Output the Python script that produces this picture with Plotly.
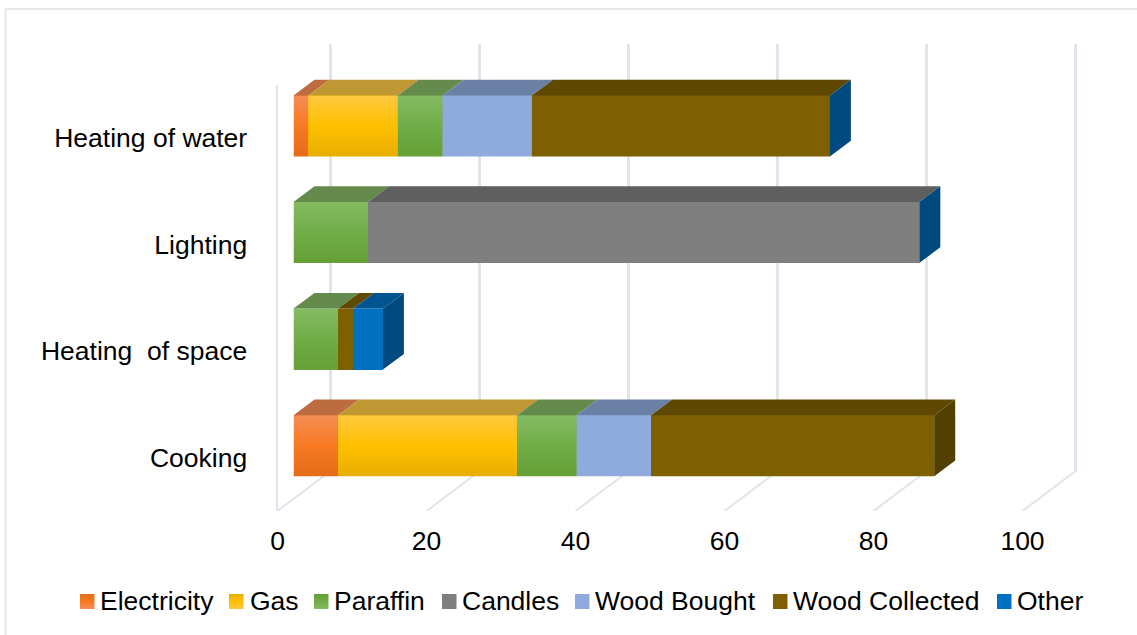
import plotly.graph_objects as go

CATEGORIES = ["Cooking", "Heating  of space", "Lighting", "Heating of water"]
SERIES = ["Electricity", "Gas", "Paraffin", "Candles", "Wood Bought", "Wood Collected", "Other"]

ELECTRICITY = [6, 0, 0, 2]
GAS = [24, 0, 0, 12]
PARAFFIN = [8, 6, 10, 6]
CANDLES = [0, 0, 74, 0]
WOOD_BOUGHT = [10, 0, 0, 12]
WOOD_COLLECTED = [38, 2, 0, 40]
OTHER = [None, 4, 0, 0]
VALUES = [ELECTRICITY, GAS, PARAFFIN, CANDLES, WOOD_BOUGHT, WOOD_COLLECTED, OTHER]
X_TICKS = [0, 20, 40, 60, 80, 100]

# (light, mid, dark) stops of each front face, then top and side shades
FRONT = [
    ("#f58d55", "#f77a22", "#e56c19"),
    ("#ffc840", "#ffc000", "#e8ae00"),
    ("#85bb63", "#70ad47", "#64a035"),
    ("#7f7f7f", "#7f7f7f", "#7f7f7f"),
    ("#8faadc", "#8faadc", "#8faadc"),
    ("#7f6000", "#7f6000", "#7f6000"),
    ("#0070c0", "#0070c0", "#0070c0"),
]
TOP = ["#bd6c40", "#bf9733", "#648a4c", "#5f5f5f", "#6b80a5", "#5f4800", "#005490"]
SIDE = ["#a85412", "#a88000", "#4b7a2f", "#555555", "#5f76a0", "#533f00", "#004a80"]
GRID = "#e1e4ea"
TEXT = "#000000"
FONT = "Liberation Sans, Arial, sans-serif"
FONT_SIZE = 26.5

W, H = 1137, 635
PX_PER_UNIT = 7.45
ROW_PX = 106.6
WALL_PAD = 1  # extra axis units so the end gridlines are kept
FLOOR_PAD = 10  # room for the floor line leaving the last tick


def xdom(left, pad=0):
    return [(left - pad * PX_PER_UNIT) / W, (left + (100 + pad) * PX_PER_UNIT) / W]


def ydom(bottom):
    return [1 - bottom / H, 1 - (bottom - 4 * ROW_PX) / H]


fig = go.Figure()
positions = list(range(len(CATEGORIES)))
bar_width = 61 / ROW_PX
half = bar_width / 2
depth_x = 21 / PX_PER_UNIT
depth_y = 15.7 / ROW_PX
floor_dx = 52.5 / PX_PER_UNIT
floor_dy = 39.5 / ROW_PX

# Rear wall: an empty trace keeps the subplot and its gridlines alive
fig.add_trace(go.Scatter(x=X_TICKS, y=[0] * len(X_TICKS), mode="none", xaxis="x", yaxis="y",
                         showlegend=False, hoverinfo="skip"))

# Floor lines running from each tick back to the rear wall
for t in X_TICKS:
    fig.add_trace(go.Scatter(
        x=[t, t + floor_dx], y=[-0.5, -0.5 + floor_dy], mode="lines", xaxis="x2", yaxis="y2",
        line=dict(color=GRID, width=2), cliponaxis=False, showlegend=False, hoverinfo="skip",
    ))

# Front plane: an empty trace keeps the tick labels and side-wall edge
fig.add_trace(go.Scatter(x=X_TICKS, y=[0] * len(X_TICKS), mode="none", xaxis="x3", yaxis="y3",
                         showlegend=False, hoverinfo="skip"))

# Stacked bars
for name, vals, colours in zip(SERIES, VALUES, FRONT):
    fig.add_trace(go.Bar(
        name=name, y=positions, x=[v or 0 for v in vals], orientation="h", xaxis="x4", yaxis="y4",
        marker=dict(color=colours[1], line=dict(width=0)), width=bar_width, showlegend=False,
    ))


def poly(xs, ys, **kw):
    fig.add_trace(go.Scatter(
        x=xs, y=ys, mode="lines", fill="toself", line=dict(width=0), xaxis="x4", yaxis="y4",
        cliponaxis=False, showlegend=False, hoverinfo="skip", **kw,
    ))


# Gradient overlays, top faces and end caps computed from the stacked values
for i, pos in enumerate(positions):
    left = 0
    last = None
    for s, vals in enumerate(VALUES):
        v = vals[i]
        if v is None:
            continue
        last = s
        if v == 0:
            continue
        right = left + v
        lo, hi = pos - half, pos + half
        poly([left, right, right, left, left], [lo, lo, hi, hi, lo],
             fillgradient=dict(type="vertical", colorscale=[[0, FRONT[s][2]], [0.5, FRONT[s][1]], [1, FRONT[s][0]]]))
        poly([left, right, right + depth_x, left + depth_x, left],
             [hi, hi, hi + depth_y, hi + depth_y, hi], fillcolor=TOP[s])
        left = right
    lo, hi = pos - half, pos + half
    poly([left, left + depth_x, left + depth_x, left, left],
         [lo, lo + depth_y, hi + depth_y, hi, lo], fillcolor=SIDE[last])

# Hand-spaced legend row: gradient swatches and their labels
LEGEND_LEFT = [80, 229, 314, 442, 575, 773, 997]
LEGEND_TEXT_LEFT = [100, 250, 334, 462, 595, 793, 1017]
for s, name in enumerate(SERIES):
    x0 = LEGEND_LEFT[s]
    fig.add_trace(go.Scatter(
        x=[x0, x0 + 14.5, x0 + 14.5, x0, x0], y=[609, 609, 594, 594, 609],
        mode="lines", fill="toself", line=dict(width=0), xaxis="x5", yaxis="y5",
        showlegend=False, hoverinfo="skip",
        fillgradient=dict(type="vertical", colorscale=[[0, FRONT[s][0]], [0.5, FRONT[s][1]], [1, FRONT[s][2]]]),
    ))
    fig.add_annotation(text=name, x=LEGEND_TEXT_LEFT[s], y=601, xref="x5", yref="y5", xanchor="left",
                       yanchor="middle", showarrow=False, xshift=-2, font=dict(family=FONT, size=FONT_SIZE, color=TEXT))

hidden = dict(visible=False, fixedrange=True)
fig.update_layout(
    width=W, height=H, margin=dict(l=0, r=0, t=0, b=0, autoexpand=False), paper_bgcolor="white",
    plot_bgcolor="rgba(0,0,0,0)",
    barmode="stack", showlegend=False, font=dict(family=FONT, size=FONT_SIZE, color=TEXT),
    # rear wall with its vertical gridlines
    xaxis=dict(domain=xdom(330, WALL_PAD), range=[-WALL_PAD, 100 + WALL_PAD], tickvals=X_TICKS, showgrid=True,
               gridcolor=GRID, gridwidth=2.5, showticklabels=False, zeroline=False, ticks="", fixedrange=True,
               anchor="y"),
    yaxis=dict(domain=[1 - 472 / H, 1 - 44 / H], range=[-0.5, 3.5], showgrid=False, showticklabels=False,
               zeroline=False, ticks="", fixedrange=True, anchor="x"),
    # floor plane, same scale as the front plane with spare room on both sides
    xaxis2=dict(domain=xdom(277.5, FLOOR_PAD), range=[-FLOOR_PAD, 100 + FLOOR_PAD], **hidden, anchor="y2"),
    yaxis2=dict(domain=ydom(511), range=[-0.5, 3.5], **hidden, anchor="x2"),
    # front plane carrying the tick labels and the side-wall edge
    xaxis3=dict(domain=xdom(277.5), range=[0, 100], tickvals=X_TICKS, showgrid=False, zeroline=False, ticks="",
                ticklabelstandoff=11, fixedrange=True, anchor="y3", tickfont=dict(size=FONT_SIZE)),
    yaxis3=dict(domain=ydom(511), range=[-0.5, 3.5], tickvals=positions, ticktext=CATEGORIES, showgrid=False,
                zeroline=False, showline=True, linecolor=GRID, linewidth=2, ticks="", ticklabelstandoff=23,
                fixedrange=True, anchor="x3", tickfont=dict(size=FONT_SIZE)),
    # bar plane
    xaxis4=dict(domain=xdom(293.5), range=[0, 100], **hidden, anchor="y4"),
    yaxis4=dict(domain=ydom(499), range=[-0.5, 3.5], **hidden, anchor="x4"),
    # pixel grid for the legend row
    xaxis5=dict(domain=[0, 1], range=[0, W], **hidden, anchor="y5"),
    yaxis5=dict(domain=[0, 1], range=[H, 0], **hidden, anchor="x5"),
    # frame edges along the top and left
    shapes=[
        dict(type="line", xref="paper", yref="paper", x0=5.5 / W, x1=1, y0=1 - 9 / H, y1=1 - 9 / H,
             line=dict(color="#e5e7eb", width=2), layer="below"),
        dict(type="line", xref="paper", yref="paper", x0=5.5 / W, x1=5.5 / W, y0=0, y1=1 - 9 / H,
             line=dict(color="#e5e7eb", width=2), layer="below"),
    ],
)

fig.write_html("out.html")
